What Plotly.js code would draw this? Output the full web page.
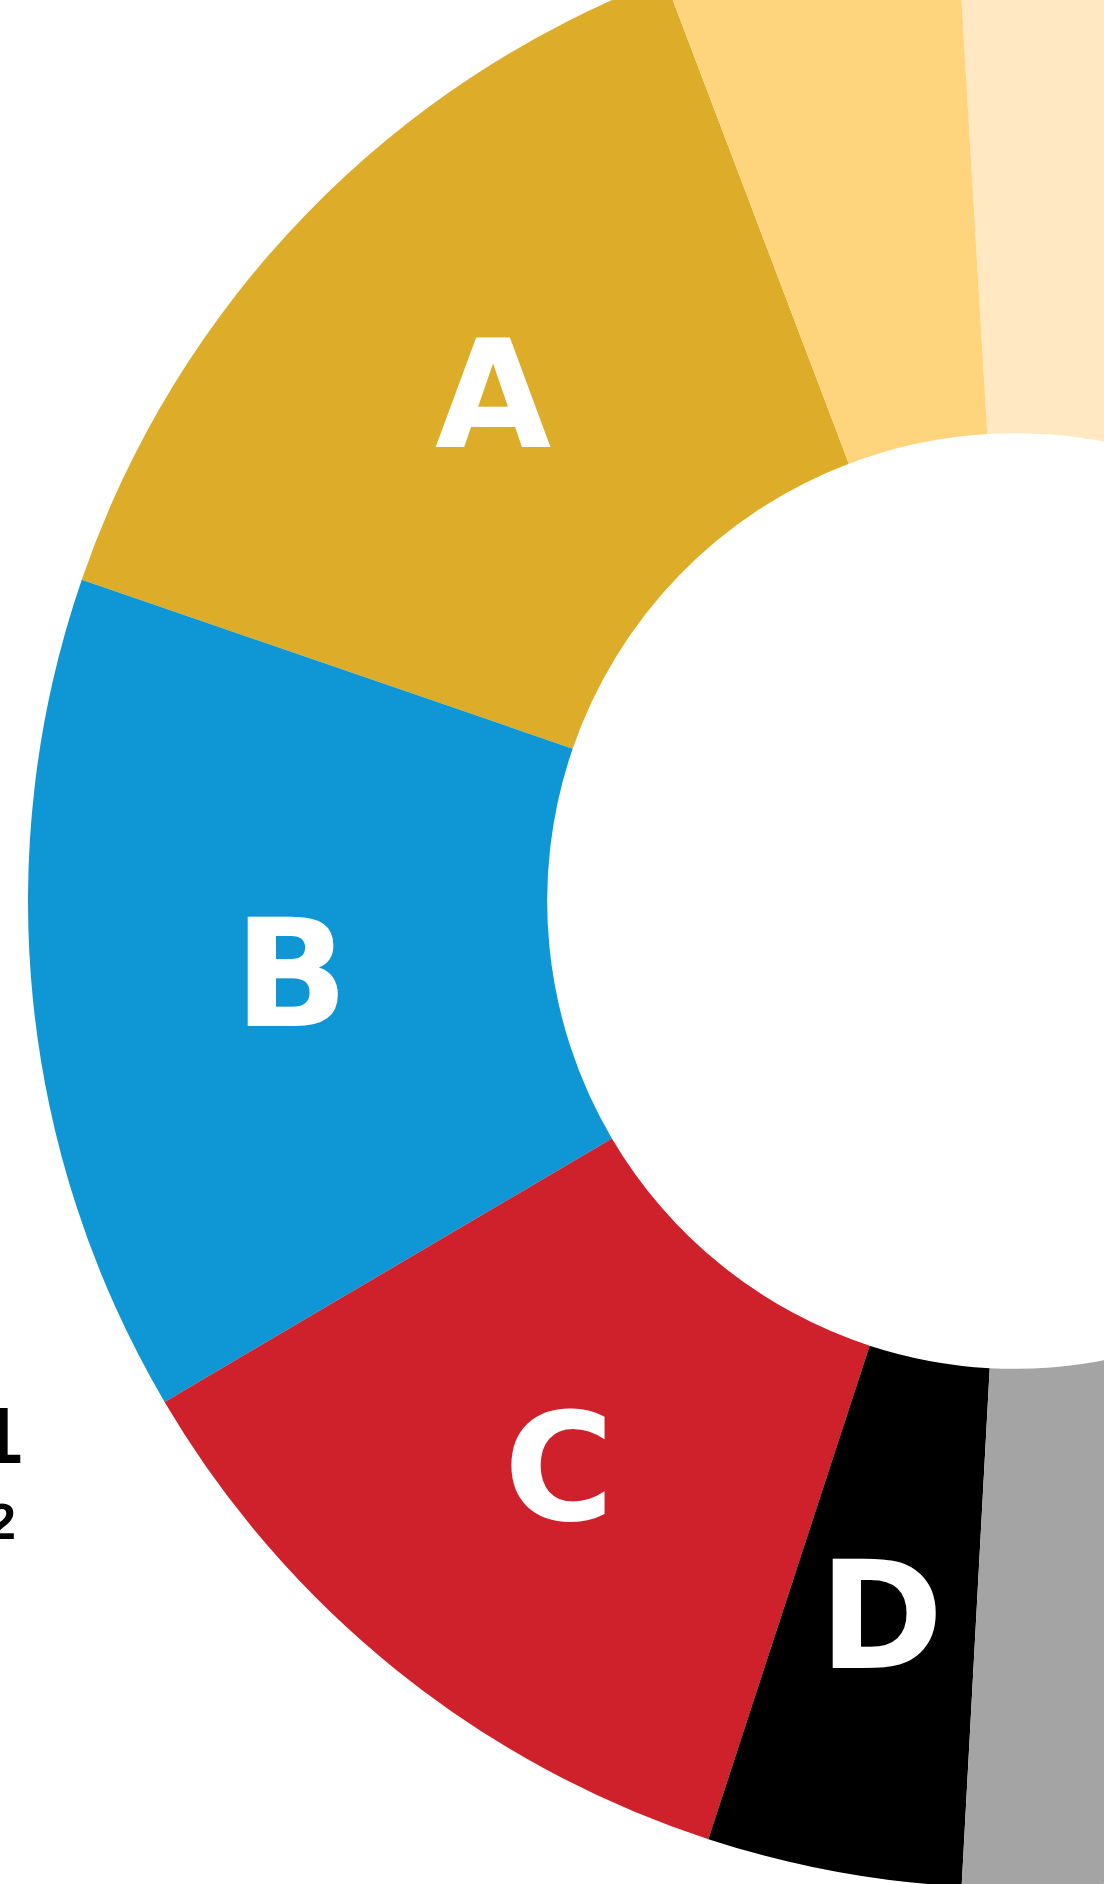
<!DOCTYPE html>
<html>
<head>
<meta charset="utf-8">
<script src="https://cdn.plot.ly/plotly-3.0.1.min.js"></script>
<style>
  html, body { margin: 0; padding: 0; background: #ffffff; overflow: hidden; width: 1104px; height: 1884px; }
  #chart { position: absolute; left: 0px; top: -86px; width: 2030px; height: 1974px; }
</style>
</head>
<body>
<div id="chart"></div>
<script>
// Slice labels (counter-clockwise order, starting from A)
const labels = ["A", "B", "C", "D", "E", "F", "G"];
// Slice sizes (degrees of arc)
const values = [50.2, 49.5, 41.4, 15.0, 60.0, 126.5, 17.4];
// Text shown inside each slice
const sliceText = ["A", "B", "C", "D", "", "", ""];
// Slice colours
const colors = ["#DDAC28", "#0E97D4", "#CF212C", "#000000", "#A4A4A4", "#FFE8C2", "#FED57C"];
// Partially visible side texts (cut by the left edge)
const sideText = ["1", "2"];

const W = 2030, H = 1974;
const HOLE = 0.474;
const ROT = -71;            // plotly rotation (deg, clockwise from 12 o'clock)
const R = Math.min(W, H) / 2;

const trace = {
  type: "pie",
  labels: labels,
  values: values,
  textinfo: "none",
  marker: { colors: colors, line: { width: 0 } },
  hole: HOLE,
  sort: false,
  direction: "counterclockwise",
  rotation: ROT,
  hoverinfo: "none",
  domain: { x: [0, 1], y: [0, 1] }
};

// Slice labels centred on the middle of the ring, at each slice's mid angle
const total = values.reduce((a, b) => a + b, 0);
const startLine = 90 - ROT;  // boundary between first and second slice (math degrees)
const annotations = [];
let acc = 0;
values.forEach((v, i) => {
  const span = v / total * 360;
  let mid;
  if (i === 0) {
    mid = startLine - span / 2;
  } else {
    mid = startLine + acc + span / 2;
    acc += span;
  }
  if (!sliceText[i]) return;
  const rm = R * (1 + HOLE) / 2;
  const rad = mid * Math.PI / 180;
  annotations.push({
    xref: "paper", yref: "paper",
    x: 0.5 + rm * Math.cos(rad) / W,
    y: 0.5 + rm * Math.sin(rad) / H,
    xanchor: "center", yanchor: "middle",
    text: sliceText[i],
    showarrow: false,
    font: { color: "#ffffff", size: 150, family: "DejaVu Sans", weight: "bold" }
  });
});

// side texts, mostly outside the left edge
annotations.push({
  xref: "paper", yref: "paper",
  x: 25 / W, y: 1 - (1389 + 86) / H,
  xanchor: "right", yanchor: "top", align: "right",
  text: sideText[0],
  showarrow: false,
  font: { color: "#000000", size: 80, family: "Liberation Sans", weight: "bold" }
});
annotations.push({
  xref: "paper", yref: "paper",
  x: 18 / W, y: 1 - (1492 + 86) / H,
  xanchor: "right", yanchor: "top", align: "right",
  text: sideText[1],
  showarrow: false,
  font: { color: "#000000", size: 50, family: "Liberation Sans", weight: "bold" }
});

const layout = {
  width: W,
  height: H,
  margin: { l: 0, r: 0, t: 0, b: 0, pad: 0 },
  showlegend: false,
  paper_bgcolor: "#ffffff",
  plot_bgcolor: "#ffffff",
  annotations: annotations
};

Plotly.newPlot("chart", [trace], layout, { displayModeBar: false, staticPlot: true });
</script>
</body>
</html>
